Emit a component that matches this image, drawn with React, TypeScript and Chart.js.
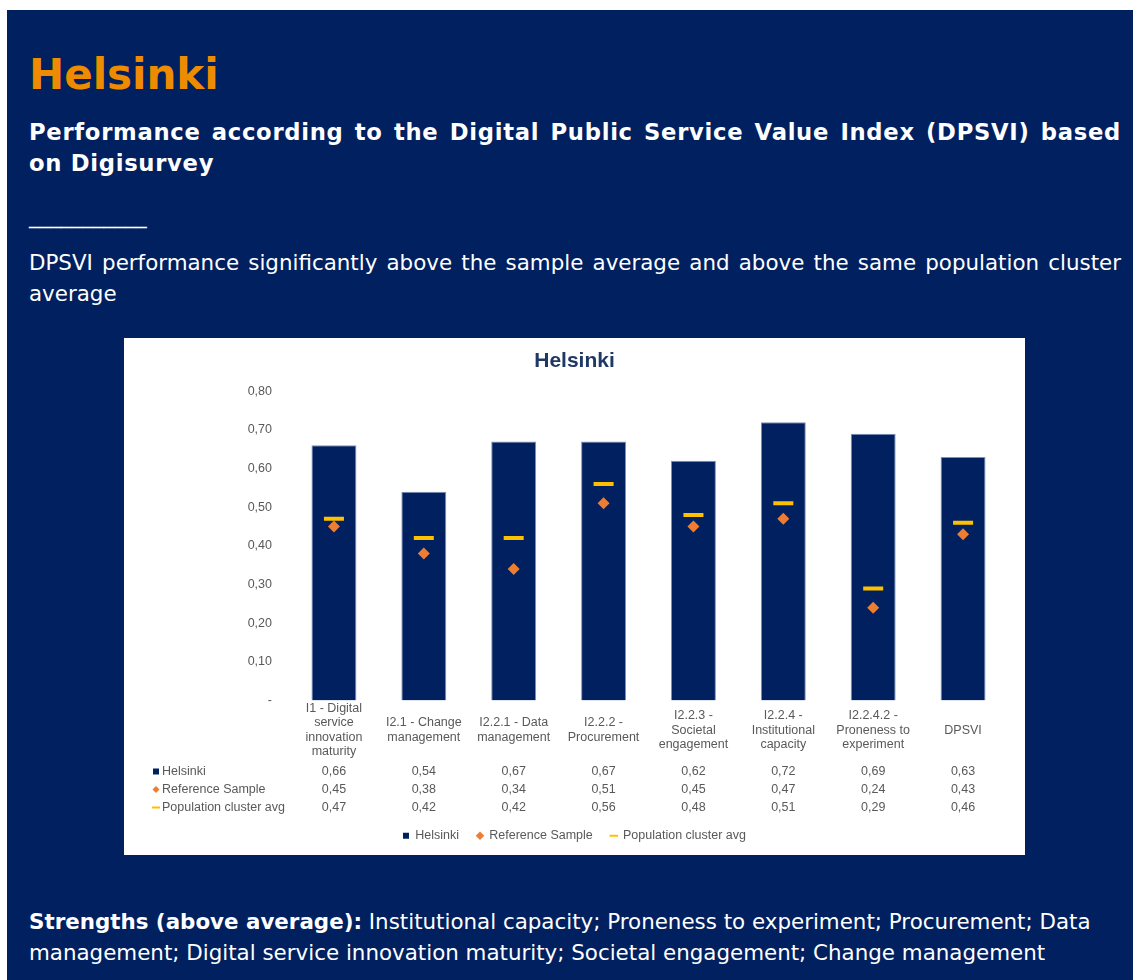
import React, { useEffect, useRef } from "react";
import { Chart, registerables } from "chart.js";

Chart.register(...registerables);

const categories: string[][] = [
  ["I1 - Digital", "service", "innovation", "maturity"],
  ["I2.1 - Change", "management"],
  ["I2.2.1 - Data", "management"],
  ["I2.2.2 -", "Procurement"],
  ["I2.2.3 -", "Societal", "engagement"],
  ["I2.2.4 -", "Institutional", "capacity"],
  ["I2.2.4.2 -", "Proneness to", "experiment"],
  ["DPSVI"],
];
const helsinki: number[] = [0.66, 0.54, 0.67, 0.67, 0.62, 0.72, 0.69, 0.63];
const referenceSample: number[] = [0.45, 0.38, 0.34, 0.51, 0.45, 0.47, 0.24, 0.43];
const populationCluster: number[] = [0.47, 0.42, 0.42, 0.56, 0.48, 0.51, 0.29, 0.46];
const seriesNames: string[] = ["Helsinki", "Reference Sample", "Population cluster avg"];

const NAVY = "#002060";
const ORANGE = "#ED7D31";
const GOLD = "#FFC000";
const GREY = "#595959";
const FONT = "'Liberation Sans', Arial, sans-serif";
const FS = 12.5;

const fmt = (v: number) => (v === 0 ? "-" : v.toFixed(2).replace(".", ","));

const tablePlugin = {
  id: "dataTable",
  afterDraw(chart: any) {
    const ctx = chart.ctx as CanvasRenderingContext2D;
    const xs = chart.scales.x;
    const base = chart.chartArea.bottom;
    const rows = [helsinki, referenceSample, populationCluster];
    ctx.save();
    ctx.font = `${FS}px ${FONT}`;
    ctx.textBaseline = "middle";
    rows.forEach((vals, r) => {
      const y = base + 71 + r * 18;
      if (r === 0) {
        ctx.fillStyle = NAVY;
        ctx.fillRect(29, y - 3, 6, 6);
      } else if (r === 1) {
        ctx.fillStyle = ORANGE;
        ctx.beginPath();
        ctx.moveTo(32, y - 3.5);
        ctx.lineTo(35.5, y);
        ctx.lineTo(32, y + 3.5);
        ctx.lineTo(28.5, y);
        ctx.closePath();
        ctx.fill();
      } else {
        ctx.fillStyle = GOLD;
        ctx.fillRect(28, y - 1, 8, 2);
      }
      ctx.fillStyle = GREY;
      ctx.textAlign = "left";
      ctx.fillText(seriesNames[r], 38, y);
      ctx.textAlign = "center";
      vals.forEach((v, i) => {
        ctx.fillText(fmt(v), xs.getPixelForValue(i), y);
      });
    });
    ctx.restore();
  },
};

function DpsviChart() {
  const ref = useRef<HTMLCanvasElement | null>(null);
  useEffect(() => {
    if (!ref.current) return;
    Chart.defaults.font.family = FONT;
    const chart = new Chart(ref.current, {
      type: "bar",
      data: {
        labels: categories as any,
        datasets: [
          {
            type: "bar",
            label: seriesNames[0],
            data: helsinki,
            backgroundColor: NAVY,
            borderColor: "#7F8FB5",
            borderWidth: 1,
            barPercentage: 0.5,
            categoryPercentage: 1,
            order: 3,
            pointStyle: "rect",
          } as any,
          {
            type: "line",
            label: seriesNames[1],
            data: referenceSample,
            showLine: false,
            pointStyle: "rectRot",
            pointRadius: 6,
            pointBackgroundColor: ORANGE,
            pointBorderColor: ORANGE,
            pointBorderWidth: 0,
            backgroundColor: ORANGE,
            borderColor: ORANGE,
            order: 2,
          } as any,
          {
            type: "line",
            label: seriesNames[2],
            data: populationCluster,
            showLine: false,
            pointStyle: "line",
            pointRadius: 10,
            pointBorderColor: GOLD,
            pointBorderWidth: 4,
            borderColor: GOLD,
            backgroundColor: GOLD,
            order: 1,
          } as any,
        ],
      },
      options: {
        responsive: false,
        animation: false,
        layout: { padding: { left: 0, right: 0, top: 0, bottom: 3 } },
        plugins: {
          title: {
            display: true,
            text: "Helsinki",
            color: "#1F3864",
            font: { size: 21, weight: "bold", family: FONT, lineHeight: 1.2 },
            padding: { top: 11, bottom: 17 },
          },
          legend: {
            position: "bottom",
            labels: {
              usePointStyle: true,
              boxWidth: 6,
              boxHeight: 6,
              color: GREY,
              font: { size: FS, family: FONT },
              padding: 18,
              sort: (a: any, b: any) => a.datasetIndex - b.datasetIndex,
              generateLabels: (c: any) => {
                const items = Chart.defaults.plugins.legend.labels.generateLabels(c);
                items.forEach((it: any) => {
                  if (it.datasetIndex === 2) it.lineWidth = 2;
                  if (it.datasetIndex === 0) { it.lineWidth = 0; it.strokeStyle = NAVY; }
                });
                return items;
              },
            },
          },
          tooltip: { enabled: false },
        },
        scales: {
          x: {
            grid: { display: false, drawTicks: false },
            border: { display: false },
            ticks: {
              color: GREY,
              font: { size: FS, family: FONT, lineHeight: 1.16 },
              padding: 8,
              crossAlign: "center",
              maxRotation: 0,
              autoSkip: false,
            },
            afterFit: (scale: any) => {
              scale.height = 111;
            },
          },
          y: {
            min: 0,
            max: 0.8,
            grid: { display: false, drawTicks: false },
            border: { display: false },
            ticks: {
              stepSize: 0.1,
              color: GREY,
              font: { size: FS, family: FONT },
              padding: 17,
              callback: (v: any) => fmt(Number(v)),
            },
            afterFit: (scale: any) => {
              scale.width = 165;
            },
          },
          yRight: {
            position: "right",
            display: true,
            grid: { display: false, drawTicks: false },
            border: { display: false },
            ticks: { display: false },
            afterFit: (scale: any) => {
              scale.width = 17;
            },
          },
        },
      } as any,
      plugins: [tablePlugin],
    });
    return () => chart.destroy();
  }, []);
  return <canvas ref={ref} width={901} height={517} style={{ display: "block" }} />;
}

export default function App() {
  const textFont = "'DejaVu Sans', Verdana, sans-serif";
  const block: React.CSSProperties = {
    position: "absolute",
    left: 22,
    width: 1092,
    color: "#FFFFFF",
    fontFamily: textFont,
    margin: 0,
  };
  return (
    <div
      style={{
        position: "absolute",
        left: 7,
        top: 10,
        width: 1126,
        height: 970,
        overflow: "hidden",
        background: "#002060",
      }}
    >
      <div style={{ ...block, top: 41, fontSize: 42, lineHeight: "48px", fontWeight: "bold", color: "#EE8B00" }}>
        Helsinki
      </div>
      <div
        style={{
          ...block,
          top: 107,
          fontSize: 22.7,
          letterSpacing: "0.7px",
          lineHeight: "31px",
          fontWeight: "bold",
          textAlign: "justify",
        }}
      >
        Performance according to the Digital Public Service Value Index (DPSVI) based on Digisurvey
      </div>
      <div style={{ ...block, top: 190, fontSize: 21.4, lineHeight: "31px" }}>___________</div>
      <div style={{ ...block, top: 237, fontSize: 21.4, lineHeight: "31px", textAlign: "justify" }}>
        DPSVI performance significantly above the sample average and above the same population cluster average
      </div>
      <div style={{ position: "absolute", left: 117, top: 328, width: 901, height: 517, background: "#FFFFFF" }}>
        <DpsviChart />
      </div>
      <div style={{ ...block, top: 896, fontSize: 21.4, lineHeight: "31px" }}>
        <b>Strengths (above average):</b> Institutional capacity; Proneness to experiment; Procurement; Data
        management; Digital service innovation maturity; Societal engagement; Change management
      </div>
    </div>
  );
}
